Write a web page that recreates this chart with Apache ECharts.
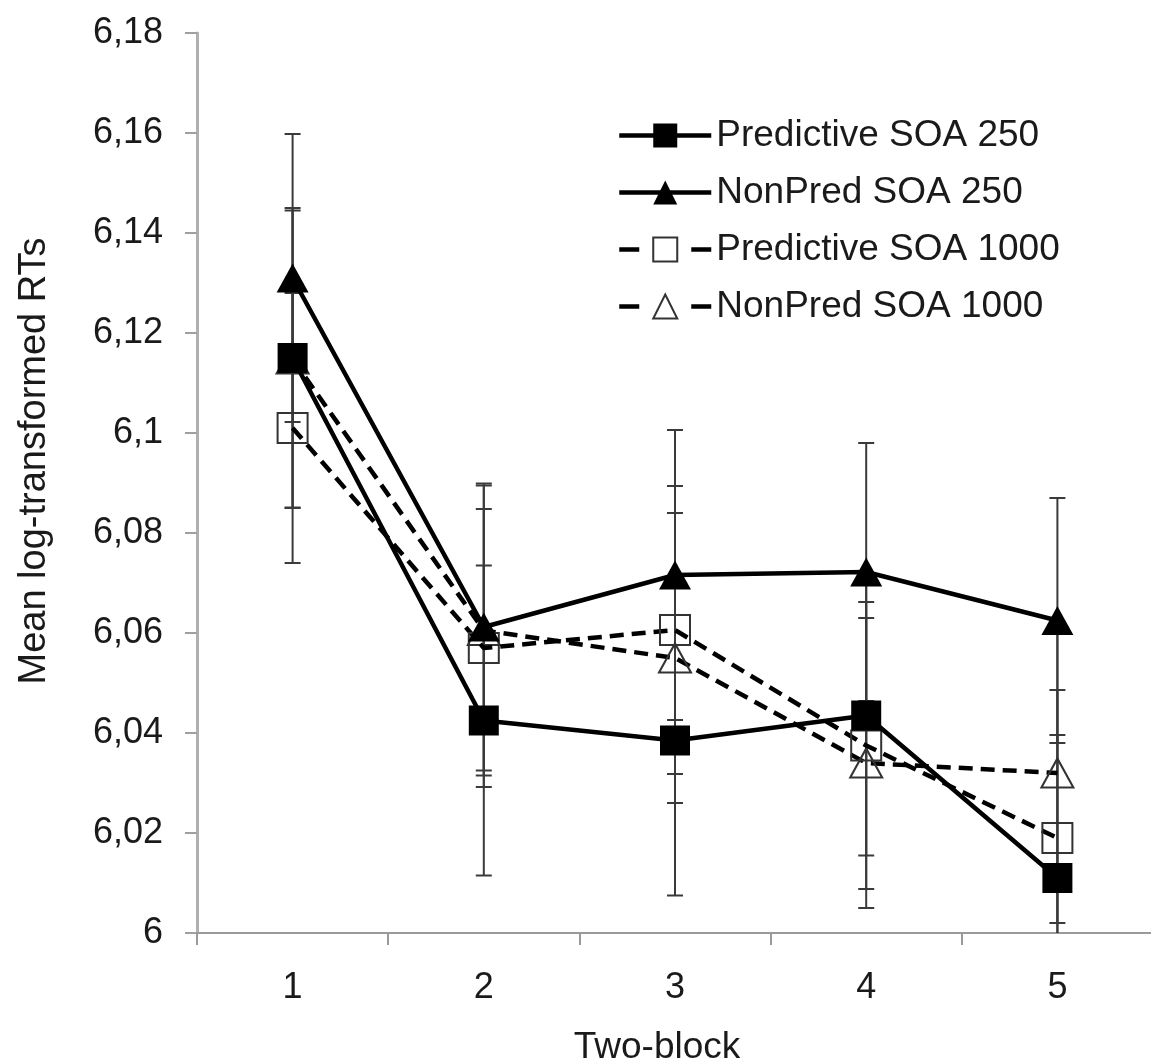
<!DOCTYPE html>
<html><head><meta charset="utf-8">
<script src="https://cdn.jsdelivr.net/npm/echarts@6/dist/echarts.min.js"></script>
<style>html,body{margin:0;padding:0;background:#fff}#c{width:1151px;height:1064px}</style>
</head><body><div id="c"></div>
<script>
const categories = ['1', '2', '3', '4', '5'];
const seriesNames = ['Predictive SOA 250', 'NonPred SOA 250', 'Predictive SOA 1000', 'NonPred SOA 1000'];
const pred250 = [6.115, 6.0425, 6.0385, 6.0435, 6.011];
const pred250Err = [0.030, 0.031, 0.031, 0.028, 0.0286];
const nonpred250 = [6.131, 6.0612, 6.0716, 6.0722, 6.0625];
const nonpred250Err = [0.0288, 0.0287, 0.029, 0.0258, 0.0245];
const pred1000 = [6.101, 6.057, 6.0606, 6.0375, 6.019];
const pred1000Err = [0.027, 0.0278, 0.0288, 0.0287, 0.0296];
const nonpred1000 = [6.1148, 6.0605, 6.055, 6.034, 6.032];
const nonpred1000Err = [0.0297, 0.029, 0.029, 0.029, 0.030];
const yTicks = { min: 6, max: 6.18, interval: 0.02 };

const FONT = "'Liberation Sans', Arial, Helvetica, sans-serif";
const means = [pred250, nonpred250, pred1000, nonpred1000];
const errs = [pred250Err, nonpred250Err, pred1000Err, nonpred1000Err];
const filled = [true, true, false, false];
const symbols = ['rect', 'triangle', 'rect', 'triangle'];
const zOrder = [8, 7, 5, 4];

function errRender(params, api) {
  const i = api.value(0);
  const top = api.coord([i, api.value(2)]);
  const bot = api.coord([i, api.value(1)]);
  const hw = 8;
  const st = { stroke: '#3a3a3a', lineWidth: 2 };
  return {
    type: 'group',
    children: [
      { type: 'line', shape: { x1: top[0], y1: top[1], x2: bot[0], y2: bot[1] }, style: st },
      { type: 'line', shape: { x1: top[0] - hw, y1: top[1], x2: top[0] + hw, y2: top[1] }, style: st },
      { type: 'line', shape: { x1: bot[0] - hw, y1: bot[1], x2: bot[0] + hw, y2: bot[1] }, style: st }
    ]
  };
}

const series = [];
means.forEach((m, k) => {
  series.push({
    name: seriesNames[k] + ' err',
    type: 'custom',
    renderItem: errRender,
    clip: true,
    z: 1,
    encode: { x: 0, y: [1, 2] },
    data: m.map((v, i) => [i, v - errs[k][i], v + errs[k][i]]),
    silent: true
  });
});
means.forEach((m, k) => {
  series.push({
    name: seriesNames[k],
    type: 'line',
    data: m,
    z: zOrder[k],
    symbol: symbols[k],
    symbolSize: symbols[k] === 'rect' ? 30 : [32, 29],
    lineStyle: { color: '#000', width: 4.5, type: filled[k] ? 'solid' : [14, 8] },
    itemStyle: filled[k]
      ? { color: '#000', borderWidth: 0 }
      : { color: 'rgba(0,0,0,0)', borderColor: '#333', borderWidth: 2 },
    emphasis: { disabled: true }
  });
});

const legendData = seriesNames.map((n, k) => filled[k]
  ? { name: n }
  : { name: n, lineStyle: { type: [20, 52], width: 4.5 } });

const chart = echarts.init(document.getElementById('c'), null, { renderer: 'canvas' });
chart.setOption({
  animation: false,
  backgroundColor: '#fff',
  grid: { left: 197, top: 33, width: 956, height: 900, containLabel: false, outerBoundsMode: 'none' },
  legend: {
    data: legendData,
    orient: 'vertical',
    left: 612,
    top: 112,
    itemWidth: 92,
    itemHeight: 30,
    itemGap: 20,
    selectedMode: false,
    lineStyle: { width: 4.5 },
    textStyle: { fontSize: 37, color: '#1a1a1a', fontFamily: FONT, lineHeight: 37 }
  },
  xAxis: {
    type: 'category',
    data: categories,
    name: 'Two-block',
    nameLocation: 'middle',
    nameGap: 96,
    nameTextStyle: { fontSize: 37, color: '#1a1a1a', fontFamily: FONT, padding: [0, 36, 0, 0] },
    axisLine: { lineStyle: { color: '#9a9a9a', width: 2 } },
    axisTick: { show: true, length: 12, lineStyle: { color: '#9a9a9a', width: 2 } },
    axisLabel: { fontSize: 36, color: '#1a1a1a', fontFamily: FONT, margin: 37 },
    splitLine: { show: false }
  },
  yAxis: {
    type: 'value',
    min: yTicks.min,
    max: yTicks.max,
    interval: yTicks.interval,
    name: 'Mean log-transformed RTs',
    nameLocation: 'middle',
    nameGap: 143,
    nameRotate: 90,
    nameTextStyle: { fontSize: 38, color: '#1a1a1a', fontFamily: FONT, padding: [0, 0, 0, 44] },
    axisLine: { show: true, lineStyle: { color: '#b0b0b0', width: 3 } },
    axisTick: { show: true, length: 12, lineStyle: { color: '#a0a0a0', width: 2 } },
    axisLabel: {
      fontSize: 36, color: '#1a1a1a', fontFamily: FONT, margin: 34,
      formatter: v => String(+v.toFixed(2)).replace('.', ',')
    },
    splitLine: { show: false }
  },
  series: series
});
</script>
</body></html>
